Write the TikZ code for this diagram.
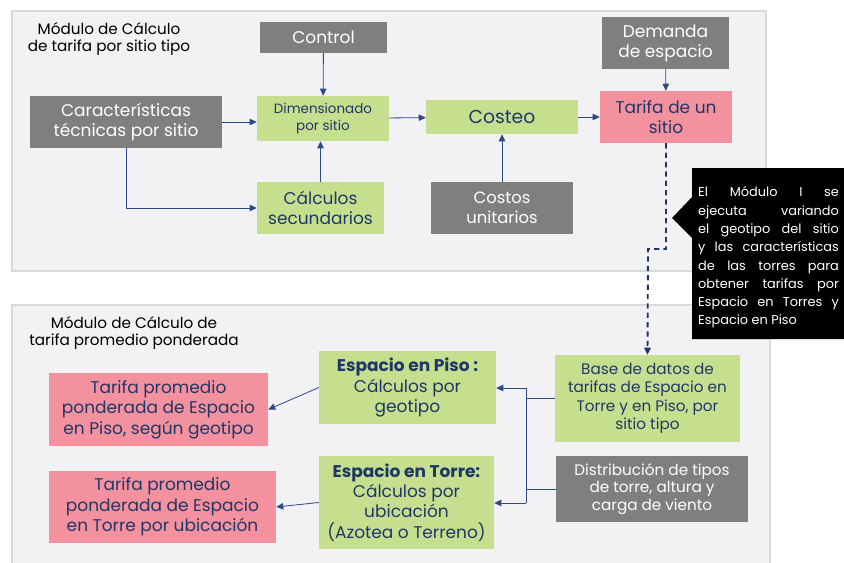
\documentclass[tikz,border=0pt]{standalone}
\usepackage{fontspec}
\setmainfont{Poppins}
\usetikzlibrary{arrows.meta, positioning}

\definecolor{panelfill}{HTML}{F2F2F5}
\definecolor{panelline}{HTML}{D9D9D9}
\definecolor{boxgray}{HTML}{7F7F7F}
\definecolor{boxgreen}{HTML}{C6DF8F}
\definecolor{boxpink}{HTML}{F4919E}
\definecolor{navy}{HTML}{1F3767}
\definecolor{linkblue}{HTML}{2E4A84}

\begin{document}
\begin{tikzpicture}[
    x=0.03cm, y=-0.03cm,
    panel/.style={draw=panelline, line width=2pt, fill=panelfill},
    title/.style={text=black, align=center, inner sep=0pt, font=\fontsize{13}{14.2}\selectfont},
    input/.style={rectangle, fill=boxgray, text=white, align=center, inner sep=0pt},
    calcbox/.style={rectangle, fill=boxgreen, text=navy, align=center, inner sep=0pt},
    result/.style={rectangle, fill=boxpink, text=navy, align=center, inner sep=0pt},
    arrow/.style={-{Triangle[length=6pt,width=5.5pt]}, linkblue, line width=0.7pt},
    link/.style={linkblue, line width=0.7pt},
    dashlink/.style={-{Triangle[length=6pt,width=5.5pt]}, navy, line width=1.6pt, dash pattern=on 4.5pt off 3.5pt}
]
\useasboundingbox (0,0) rectangle (844,562);
\clip (0,0) rectangle (844,562);

% ==== Panels ====
\draw[panel] (12,11) rectangle (766,271);
\draw[panel] (12,305) rectangle (770,580);

\node[title] (titulo1) at (109,39) {Módulo de Cálculo\\de tarifa por sitio tipo};
\node[title] (titulo2) at (134,333) {Módulo de Cálculo de\\tarifa promedio ponderada};

% ==== Module I: tarifa por sitio tipo ====
\node[input, minimum width=3.81cm, minimum height=0.93cm, font=\fontsize{14.5}{17}\selectfont] (ctrl) at (323.5,37.5) {Control};
\node[input, minimum width=5.76cm, minimum height=1.56cm, font=\fontsize{14.5}{17}\selectfont] (caract) at (126,122) {Características\\técnicas por sitio};
\node[calcbox, minimum width=3.96cm, minimum height=1.35cm, font=\fontsize{11.5}{14.5}\selectfont] (dimen) at (323,118.5) {Dimensionado\\por sitio};
\node[calcbox, minimum width=3.81cm, minimum height=1.56cm, font=\fontsize{14.5}{17}\selectfont] (calc) at (320.5,208) {Cálculos\\secundarios};
\node[calcbox, minimum width=4.56cm, minimum height=1.02cm, font=\fontsize{16}{19}\selectfont] (costeo) at (502,117) {Costeo};
\node[input, minimum width=4.26cm, minimum height=1.56cm, font=\fontsize{14}{17}\selectfont] (costos) at (502,208) {Costos\\unitarios};
\node[input, minimum width=3.81cm, minimum height=1.56cm, font=\fontsize{14.5}{17}\selectfont] (demanda) at (665.5,43) {Demanda\\de espacio};
\node[result, minimum width=3.96cm, minimum height=1.56cm, font=\fontsize{14.5}{17}\selectfont] (tarifa) at (666,117) {Tarifa de un\\sitio};

\draw[arrow] (ctrl) -- (dimen);
\draw[arrow] (caract.east) -- (caract.east -| dimen.west);
\draw[arrow] (caract.south) |- (calc.west);
\draw[arrow] (calc.north) -- (calc.north |- dimen.south);
\draw[arrow] (dimen) -- (costeo);
\draw[arrow] (costos) -- (costeo);
\draw[arrow] (costeo) -- (tarifa);
\draw[arrow] (demanda) -- (tarifa);

% ==== Module II: tarifa promedio ponderada ====
\node[result, minimum width=6.57cm, minimum height=2.19cm, font=\fontsize{14.5}{17.4}\selectfont] (tpiso) at (158.5,409.5) {Tarifa promedio\\ponderada de Espacio\\en Piso, según geotipo};
\node[result, minimum width=6.81cm, minimum height=2.16cm, font=\fontsize{14.5}{17.4}\selectfont] (ttorre) at (162.5,507) {Tarifa promedio\\ponderada de Espacio\\en Torre por ubicación};
\node[calcbox, minimum width=5.31cm, minimum height=2.19cm, font=\fontsize{14.5}{17.4}\selectfont] (piso) at (407.5,387.5) {{\bfseries Espacio en Piso :}\\Cálculos por\\geotipo};
\node[calcbox, minimum width=5.25cm, minimum height=2.79cm, font=\fontsize{14.5}{17.4}\selectfont] (torre) at (406.5,502.5) {{\bfseries Espacio en Torre:}\\Cálculos por\\ubicación\\(Azotea o Terreno)};
\node[calcbox, minimum width=5.55cm, minimum height=2.61cm, font=\fontsize{13}{15.7}\selectfont] (base) at (647.5,398.5) {Base de datos de\\tarifas de Espacio en\\Torre y en Piso, por\\sitio tipo};
\node[input, minimum width=5.76cm, minimum height=1.98cm, font=\fontsize{13}{15.3}\selectfont] (distrib) at (652,489) {Distribución de tipos\\de torre, altura y\\carga de viento};

\coordinate (bustop) at (526,388);
\coordinate (busbot) at (526,503);
\draw[link] (base.west) -- (base.west -| bustop);
\draw[link] (distrib.west) -- (distrib.west -| bustop);
\draw[link] (bustop) -- (busbot);
\draw[arrow] (bustop) -- (bustop -| piso.east);
\draw[arrow] (busbot) -- (busbot -| torre.east);
\draw[arrow] (piso.west) -- (tpiso.east);
\draw[arrow] (torre.west) -- (ttorre.east);

% ==== Link between modules ====
\coordinate (bend) at (648,249);
\draw[dashlink] (tarifa.south) |- (bend) -- (base.north);

% ==== Callout ====
\fill[black] (692,168) -- (880,168) -- (880,339) -- (692,339) -- (692,238) -- (672,218) -- (692,197) -- cycle;
\node[text=white, anchor=west, align=left, inner sep=0pt, font=\fontsize{11}{15.6}\selectfont] (nota) at (698,257.5)
    {\makebox[4.22cm][s]{El Módulo I se}\\
     \makebox[4.22cm][s]{ejecuta variando}\\
     \makebox[4.22cm][s]{el geotipo del sitio}\\
     \makebox[4.22cm][s]{y las características}\\
     \makebox[4.22cm][s]{de las torres para}\\
     \makebox[4.22cm][s]{obtener tarifas por}\\
     \makebox[4.22cm][s]{Espacio en Torres y}\\
     Espacio en Piso};

\end{tikzpicture}
\end{document}
